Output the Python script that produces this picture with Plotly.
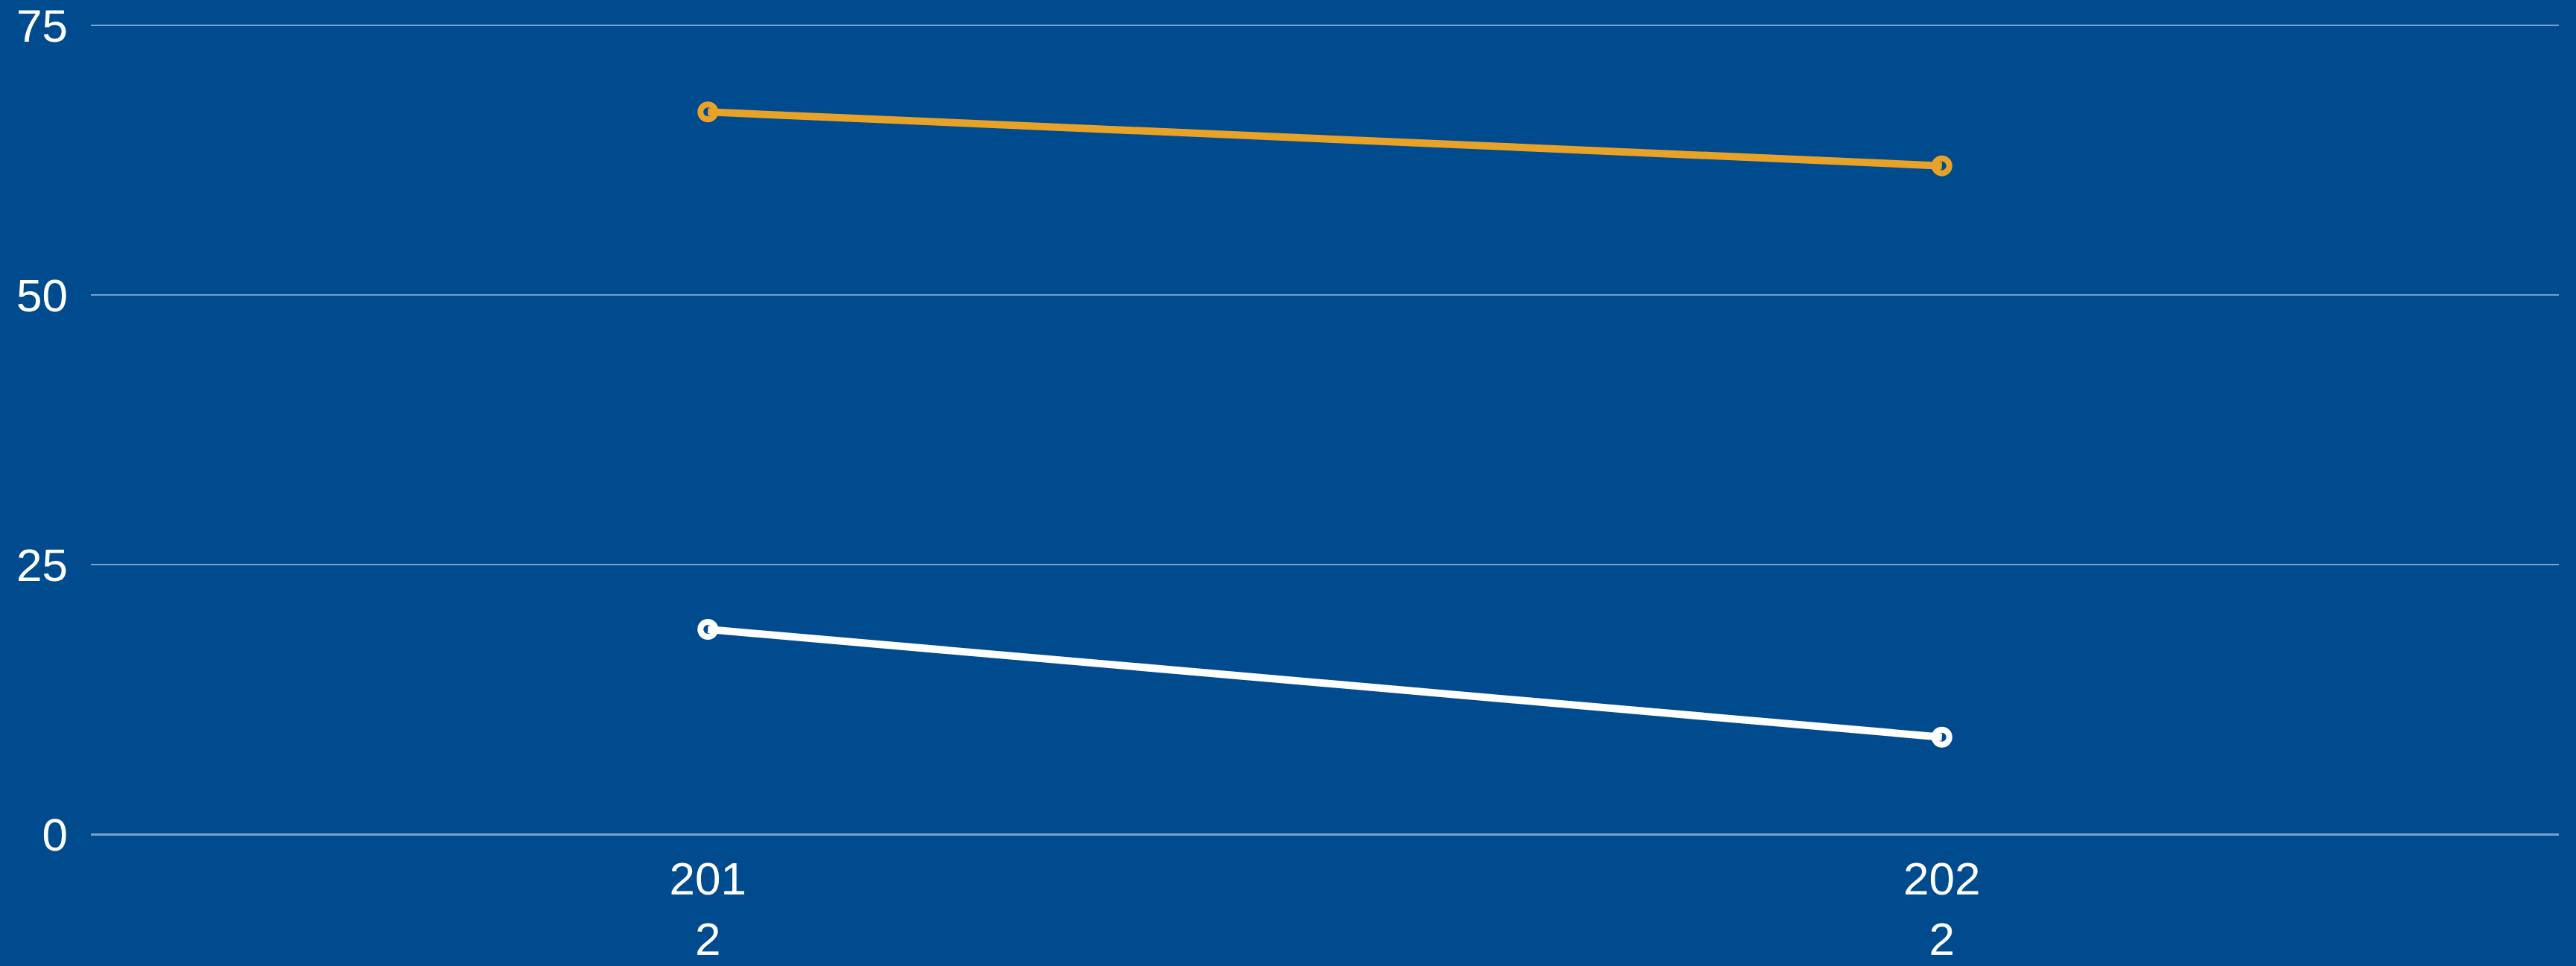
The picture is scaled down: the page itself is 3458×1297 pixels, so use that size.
import plotly.graph_objects as go

years = ["201<br>2", "202<br>2"]
series_orange = [67, 62]
series_white = [19, 9]
y_ticks = [0, 25, 50, 75]

BG = "#004b8d"
ORANGE = "#e8a228"
WHITE = "#ffffff"
GRID = "rgba(160,190,225,0.75)"

fig = go.Figure()
for vals, col in [(series_orange, ORANGE), (series_white, WHITE)]:
    fig.add_trace(go.Scatter(
        x=years, y=vals, mode="lines+markers",
        line=dict(color=col, width=10),
        marker=dict(symbol="circle-open", size=20, color=col, line=dict(width=8, color=col)),
        showlegend=False, hoverinfo="skip",
    ))

font = dict(family="Liberation Sans, Arial, sans-serif", size=62, color="white")
fig.update_layout(
    width=3458, height=1297,
    paper_bgcolor=BG, plot_bgcolor=BG,
    margin=dict(l=122, r=23, t=20, b=177, autoexpand=False),
    font=font,
    xaxis=dict(type="category", range=[-0.5, 1.5], showgrid=False, zeroline=False,
               showline=False, ticks="", tickfont=font, ticklabelstandoff=18, automargin=False),
    yaxis=dict(range=[0, 76], tickvals=y_ticks, showgrid=True, gridcolor=GRID, gridwidth=2,
               zeroline=True, zerolinecolor=GRID, zerolinewidth=3, showline=False,
               ticks="", ticklabelstandoff=30, tickfont=font, automargin=False),
)
fig.write_html("out.html")
